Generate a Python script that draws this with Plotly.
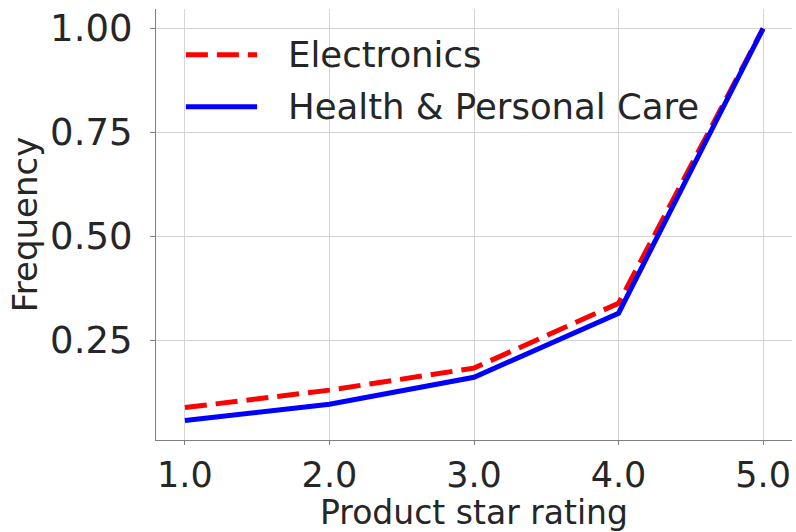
import plotly.graph_objects as go

# Star ratings and normalised review frequency per product category
ratings = [1.0, 2.0, 3.0, 4.0, 5.0]
electronics = [0.088, 0.130, 0.183, 0.339, 1.0]
health_care = [0.057, 0.096, 0.161, 0.315, 1.0]

series_names = ["Electronics", "Health & Personal Care"]
series_colors = ["#ff0000", "#0000ff"]
series_dash = ["22px,9px", "solid"]

x_ticks = [1.0, 2.0, 3.0, 4.0, 5.0]
y_ticks = [0.25, 0.50, 0.75, 1.00]

FONT = "DejaVu Sans"
TEXT = "#262626"
GRID = "#d4d4d4"
SPINE = "#808080"

fig = go.Figure()
for name, ys, color, dash in zip(series_names, [electronics, health_care],
                                 series_colors, series_dash):
    fig.add_trace(go.Scatter(
        x=ratings, y=ys, mode="lines", name=name,
        line=dict(color=color, width=5, dash=dash),
        showlegend=False,
    ))

# Legend drawn as line samples plus text, without a frame
legend_rows_y = [0.894, 0.773]
for name, color, dash, yy in zip(series_names, series_colors, series_dash, legend_rows_y):
    fig.add_shape(type="line", xref="paper", yref="paper",
                  x0=0.047, x1=0.159, y0=yy, y1=yy,
                  line=dict(color=color, width=5, dash=dash))
    fig.add_annotation(xref="paper", yref="paper", x=0.204, y=yy,
                       text=name, showarrow=False, xanchor="left", yanchor="middle",
                       font=dict(family=FONT, size=35.5, color=TEXT))

fig.update_layout(
    width=796, height=532,
    margin=dict(l=156, r=4, t=9, b=92),
    paper_bgcolor="white", plot_bgcolor="white",
    font=dict(family=FONT, color=TEXT),
)
fig.update_xaxes(
    range=[0.8, 5.2], tickvals=x_ticks, tickformat=".1f",
    showgrid=True, gridcolor=GRID, gridwidth=1, zeroline=False,
    showline=True, linecolor=SPINE, linewidth=1.2,
    ticks="outside", ticklen=4, tickcolor=SPINE, tickwidth=1.2,
    tickfont=dict(family=FONT, size=35, color=TEXT),
    title=dict(text="Product star rating", font=dict(family=FONT, size=33, color=TEXT), standoff=11),
)
fig.update_yaxes(
    range=[0.010, 1.047], tickvals=y_ticks, tickformat=".2f",
    showgrid=True, gridcolor=GRID, gridwidth=1, zeroline=False,
    showline=True, linecolor=SPINE, linewidth=1.2,
    ticks="outside", ticklen=5, tickcolor=SPINE, tickwidth=1.2,
    ticklabelstandoff=10,
    tickfont=dict(family=FONT, size=37, color=TEXT),
    title=dict(text="Frequency", font=dict(family=FONT, size=34, color=TEXT), standoff=2),
)

fig.write_html("out.html")
